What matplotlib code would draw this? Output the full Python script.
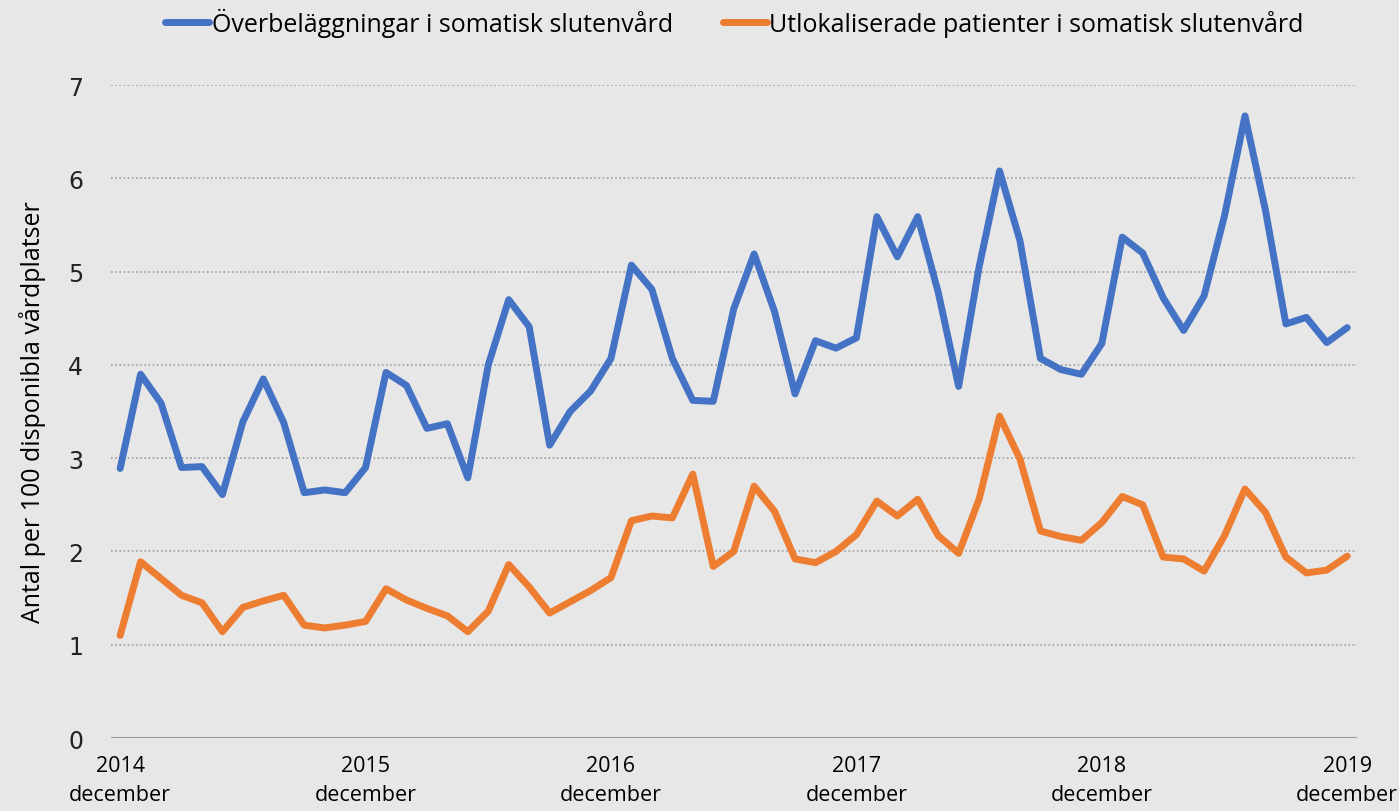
import matplotlib
matplotlib.use("Agg")
import matplotlib.pyplot as plt
import numpy as np

# Monthly values, december 2014 -> december 2019 (61 months)
overbelaggningar = [
    2.89, 3.90, 3.59, 2.90, 2.91, 2.61, 3.39, 3.85, 3.38, 2.63, 2.66, 2.63,
    2.90, 3.92, 3.78, 3.32, 3.37, 2.79, 4.00, 4.70, 4.41, 3.14, 3.50, 3.72,
    4.07, 5.07, 4.81, 4.07, 3.62, 3.61, 4.60, 5.19, 4.57, 3.69, 4.26, 4.18,
    4.29, 5.59, 5.16, 5.59, 4.78, 3.77, 5.05, 6.08, 5.33, 4.07, 3.95, 3.90,
    4.23, 5.37, 5.20, 4.72, 4.37, 4.74, 5.60, 6.67, 5.66, 4.44, 4.51, 4.24,
    4.40,
]
utlokaliserade = [
    1.10, 1.89, 1.71, 1.53, 1.45, 1.14, 1.40, 1.47, 1.53, 1.21, 1.18, 1.21,
    1.25, 1.60, 1.48, 1.39, 1.31, 1.14, 1.36, 1.86, 1.62, 1.34, 1.46, 1.58,
    1.72, 2.33, 2.38, 2.36, 2.83, 1.84, 2.00, 2.70, 2.43, 1.92, 1.88, 2.00,
    2.18, 2.54, 2.38, 2.56, 2.17, 1.98, 2.56, 3.45, 2.99, 2.22, 2.16, 2.12,
    2.31, 2.59, 2.50, 1.94, 1.92, 1.79, 2.17, 2.67, 2.42, 1.94, 1.77, 1.80,
    1.95,
]
tick_years = ["2014", "2015", "2016", "2017", "2018", "2019"]
series_names = ["Överbeläggningar i somatisk slutenvård",
                "Utlokaliserade patienter i somatisk slutenvård"]

bg = "#e7e7e7"
blue = "#4472c4"
orange = "#ed7d31"
txt_font = ["Open Sans", "DejaVu Sans"]

fig = plt.figure(figsize=(13.99, 8.12), dpi=100, facecolor=bg)
ax = fig.add_axes([0.0793, 0.0899, 0.891, 0.804], facecolor=bg)

months = np.arange(len(overbelaggningar))
ax.plot(months, overbelaggningar, color=blue, lw=5, solid_joinstyle="round",
        solid_capstyle="round", label=series_names[0], zorder=3)
ax.plot(months, utlokaliserade, color=orange, lw=5, solid_joinstyle="round",
        solid_capstyle="round", label=series_names[1], zorder=3)

ax.set_xlim(-0.45, 60.5)
ax.set_ylim(0, 7)

# gridlines
for v in range(1, 8):
    ax.axhline(v, color="#a0a0a0", lw=1.2, ls=(0, (1, 1.5)), zorder=1)
ax.axhline(0, color="#9a9a9a", lw=1.5, zorder=2)

for s in ax.spines.values():
    s.set_visible(False)

ax.set_yticks(range(0, 8))
ax.set_yticklabels([str(v) for v in range(0, 8)], fontsize=17,
                   family=["DejaVu Sans"], color="#222222")
ax.tick_params(axis="y", length=0, pad=20)

ax.set_xticks(months[::12])
ax.set_xticklabels([y + "\ndecember" for y in tick_years], fontsize=15.5,
                   family=txt_font, linespacing=1.55)
ax.tick_params(axis="x", length=0, pad=12)

ax.set_ylabel("Antal per 100 disponibla vårdplatser", fontsize=18,
              family=txt_font, labelpad=16)

leg = fig.legend(loc="upper center", bbox_to_anchor=(0.525, 1.017), ncol=2,
                 frameon=False, prop={"family": txt_font, "size": 18},
                 handlelength=1.75, handletextpad=0.1, columnspacing=2.0)
for line in leg.get_lines():
    line.set_linewidth(5)

fig.savefig("out.png", dpi=100, facecolor=bg)
